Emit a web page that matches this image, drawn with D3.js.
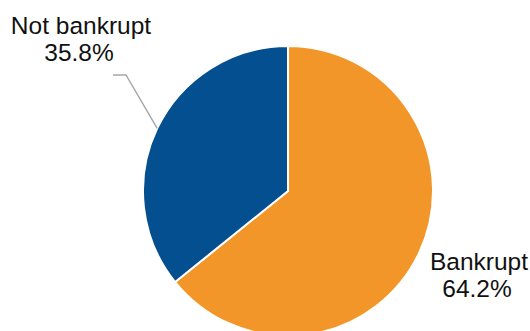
<!DOCTYPE html>
<html>
<head>
<meta charset="utf-8">
<script src="https://cdn.jsdelivr.net/npm/d3@7"></script>
<style>
  html, body { margin: 0; padding: 0; background: #fff; }
  svg { display: block; }
  text { font-family: "Liberation Sans", Arial, sans-serif; fill: #111; }
</style>
</head>
<body>
<svg id="chart" width="530" height="331"></svg>
<script>
// Share of firms by outcome (percent)
const categories = ["Bankrupt", "Not bankrupt"];
const shares = [64.2, 35.8];
const colors = ["#f3962a", "#034f8f"];

const svg = d3.select("#chart");
const cx = 288, cy = 191, radius = 145;

const pie = d3.pie().sort(null).value(d => d.value);
const data = pie(categories.map((c, i) => ({ name: c, value: shares[i], color: colors[i] })));

const arc = d3.arc().innerRadius(0).outerRadius(radius);
const g = svg.append("g").attr("transform", `translate(${cx},${cy})`);

g.selectAll("path.slice")
  .data(data)
  .join("path")
  .attr("class", "slice")
  .attr("d", arc)
  .attr("fill", d => d.data.color)
  .attr("stroke", "#fff")
  .attr("stroke-width", 2)
  .attr("stroke-linejoin", "round");

// Label placement for each slice: text anchor (relative to pie centre)
// and an optional elbow for the leader line.
const labelLayout = {
  "Bankrupt": { x: 479 - cx, y: 270 - cy, leader: null },
  "Not bankrupt": { x: 81 - cx, y: 34 - cy, leader: { elbow: [126 - cx, 75 - cy], end: [113 - cx, 75 - cy] } }
};

const fmt = d3.format(".1f");
const lineGap = 26.5;

data.forEach(d => {
  const L = labelLayout[d.data.name];
  if (L.leader) {
    const a = (d.startAngle + d.endAngle) / 2;
    const p0 = [Math.sin(a) * radius, -Math.cos(a) * radius];
    g.append("path")
      .attr("d", d3.line()([p0, L.leader.elbow, L.leader.end]))
      .attr("fill", "none")
      .attr("stroke", "#a6a6a6")
      .attr("stroke-width", 1.4);
  }
  const t = g.append("text")
    .attr("text-anchor", "middle")
    .attr("font-size", 24.5);
  t.append("tspan").attr("x", L.x).attr("y", L.y).text(d.data.name);
  t.append("tspan").attr("x", L.x - 2).attr("y", L.y + lineGap).text(fmt(d.data.value) + "%");
});
</script>
</body>
</html>
